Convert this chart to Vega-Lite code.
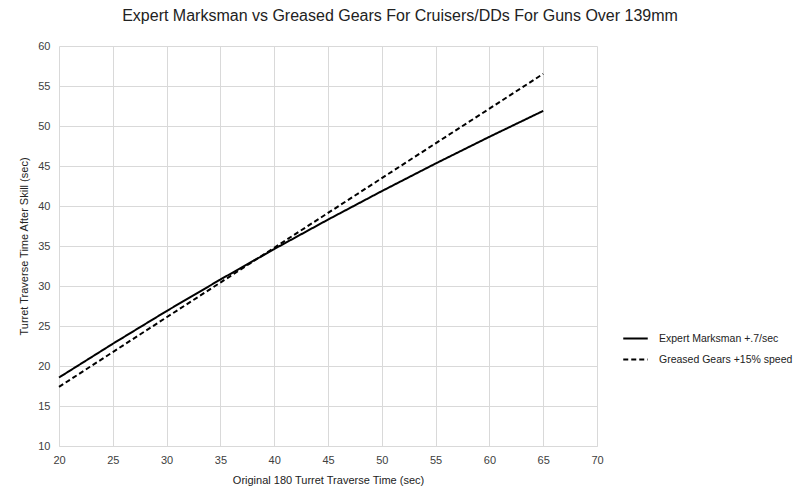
{
  "$schema": "https://vega.github.io/schema/vega-lite/v6.json",
  "autosize": {"type": "none"},
  "width": 538,
  "height": 400,
  "padding": {"left": 59, "top": 46, "right": 203, "bottom": 56},
  "background": "white",
  "title": {
    "text": "Expert Marksman vs Greased Gears For Cruisers/DDs For Guns Over 139mm",
    "font": "Liberation Sans Narrow, Liberation Sans",
    "fontSize": 16,
    "fontWeight": "normal",
    "color": "#222222",
    "anchor": "middle",
    "dx": 72,
    "offset": 16
  },
  "data": {
    "values": [
      {"x": 20, "y": 18.56, "s": "Expert Marksman +.7/sec"},
      {"x": 25, "y": 22.78, "s": "Expert Marksman +.7/sec"},
      {"x": 30, "y": 26.87, "s": "Expert Marksman +.7/sec"},
      {"x": 35, "y": 30.81, "s": "Expert Marksman +.7/sec"},
      {"x": 40, "y": 34.62, "s": "Expert Marksman +.7/sec"},
      {"x": 45, "y": 38.30, "s": "Expert Marksman +.7/sec"},
      {"x": 50, "y": 41.86, "s": "Expert Marksman +.7/sec"},
      {"x": 55, "y": 45.31, "s": "Expert Marksman +.7/sec"},
      {"x": 60, "y": 48.65, "s": "Expert Marksman +.7/sec"},
      {"x": 65, "y": 51.89, "s": "Expert Marksman +.7/sec"},
      {"x": 20, "y": 17.39, "s": "Greased Gears +15% speed"},
      {"x": 25, "y": 21.74, "s": "Greased Gears +15% speed"},
      {"x": 30, "y": 26.09, "s": "Greased Gears +15% speed"},
      {"x": 35, "y": 30.43, "s": "Greased Gears +15% speed"},
      {"x": 40, "y": 34.78, "s": "Greased Gears +15% speed"},
      {"x": 45, "y": 39.13, "s": "Greased Gears +15% speed"},
      {"x": 50, "y": 43.48, "s": "Greased Gears +15% speed"},
      {"x": 55, "y": 47.83, "s": "Greased Gears +15% speed"},
      {"x": 60, "y": 52.17, "s": "Greased Gears +15% speed"},
      {"x": 65, "y": 56.52, "s": "Greased Gears +15% speed"}
    ]
  },
  "mark": {"type": "line", "strokeWidth": 2, "color": "black"},
  "encoding": {
    "x": {
      "field": "x", "type": "quantitative",
      "scale": {"domain": [20, 70], "nice": false},
      "axis": {
        "values": [20, 25, 30, 35, 40, 45, 50, 55, 60, 65, 70],
        "title": "Original 180 Turret Traverse Time (sec)",
        "titleFontWeight": "normal", "titleFontSize": 11, "titlePadding": 9,
        "labelFontSize": 11, "labelPadding": 8, "labelFlush": false,
        "ticks": false, "domainColor": "#d9d9d9",
        "gridColor": "#d9d9d9"
      }
    },
    "y": {
      "field": "y", "type": "quantitative",
      "scale": {"domain": [10, 60], "nice": false},
      "axis": {
        "values": [10, 15, 20, 25, 30, 35, 40, 45, 50, 55, 60],
        "title": "Turret Traverse Time After Skill (sec)",
        "titleFontWeight": "normal", "titleFontSize": 11, "titlePadding": 8,
        "labelFontSize": 11, "labelPadding": 9,
        "ticks": false, "domain": false,
        "gridColor": "#d9d9d9"
      }
    },
    "strokeDash": {
      "field": "s", "type": "nominal",
      "scale": {"range": [[1, 0], [5, 3]]},
      "legend": {
        "title": null, "orient": "none", "legendX": 563, "legendY": 279,
        "symbolType": "stroke", "symbolStrokeWidth": 2, "symbolSize": 600,
        "symbolStrokeColor": "black",
        "labelFontSize": 10.5, "rowPadding": 2, "labelOffset": 10
      }
    }
  },
  "config": {
    "font": "Liberation Sans Narrow, Liberation Sans",
    "view": {"stroke": null},
    "axis": {"labelColor": "#404040", "titleColor": "#222222", "labelFont": "Liberation Sans Narrow, Liberation Sans", "titleFont": "Liberation Sans Narrow, Liberation Sans"},
    "legend": {"labelColor": "#222222", "labelFont": "Liberation Sans Narrow, Liberation Sans"}
  }
}
